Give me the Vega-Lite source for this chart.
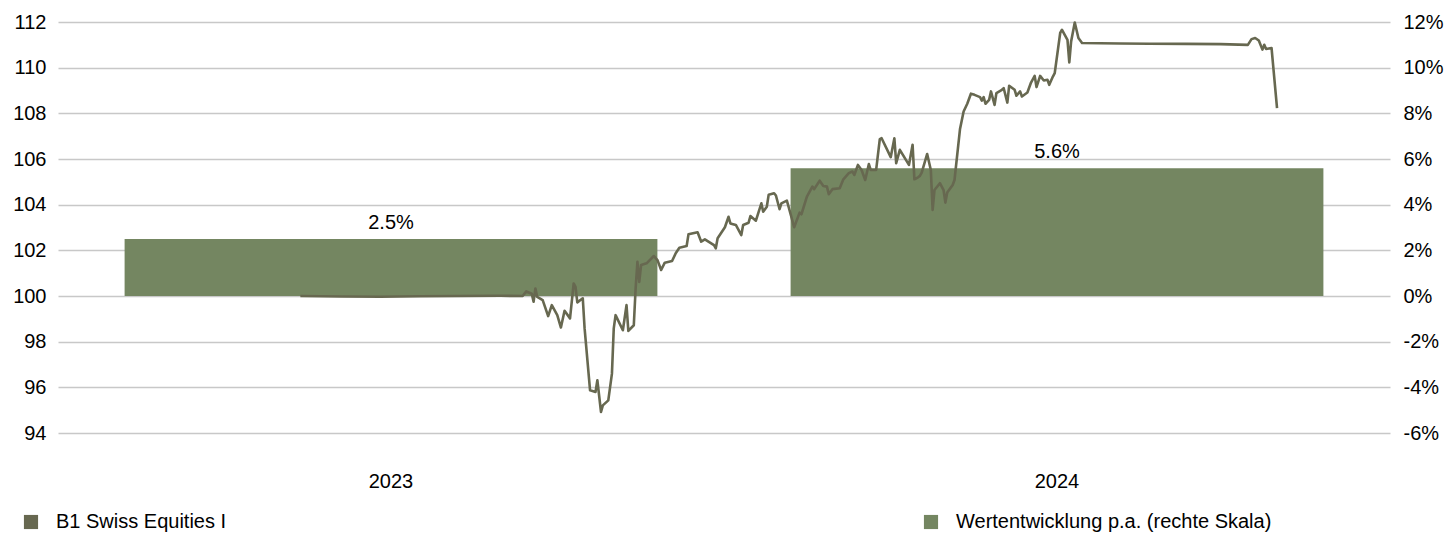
{
  "$schema": "https://vega.github.io/schema/vega-lite/v6.json",
  "width": 1332,
  "height": 411,
  "autosize": {"type": "none"},
  "padding": {"left": 58, "top": 22, "right": 56, "bottom": 103},
  "background": "white",
  "config": {
    "view": {"stroke": null},
    "font": "Liberation Sans",
    "axis": {"labelFont": "Liberation Sans", "labelFontSize": 20, "labelColor": "#000000", "domain": false, "ticks": false, "title": null},
    "legend": {"labelFont": "Liberation Sans", "labelFontSize": 20, "labelColor": "#000000", "labelLimit": 0}
  },
  "datasets": {
    "bars": [
      {"year": "2023", "perf": 0.025},
      {"year": "2024", "perf": 0.056}
    ],
    "line": [
      {"date": "2023-05-14", "value": 100.0},
      {"date": "2023-06-05", "value": 99.98},
      {"date": "2023-06-27", "value": 99.97},
      {"date": "2023-07-19", "value": 99.99},
      {"date": "2023-08-10", "value": 100.0},
      {"date": "2023-09-01", "value": 100.01},
      {"date": "2023-09-13", "value": 100.0},
      {"date": "2023-09-15", "value": 100.2},
      {"date": "2023-09-18", "value": 100.1},
      {"date": "2023-09-19", "value": 99.75},
      {"date": "2023-09-20", "value": 100.33},
      {"date": "2023-09-21", "value": 99.96},
      {"date": "2023-09-24", "value": 99.82},
      {"date": "2023-09-27", "value": 99.12},
      {"date": "2023-09-29", "value": 99.6},
      {"date": "2023-10-02", "value": 99.16},
      {"date": "2023-10-04", "value": 98.62},
      {"date": "2023-10-06", "value": 99.35},
      {"date": "2023-10-09", "value": 99.02},
      {"date": "2023-10-11", "value": 100.55},
      {"date": "2023-10-12", "value": 100.4},
      {"date": "2023-10-13", "value": 99.72},
      {"date": "2023-10-16", "value": 99.9},
      {"date": "2023-10-17", "value": 98.58},
      {"date": "2023-10-20", "value": 95.87},
      {"date": "2023-10-23", "value": 95.8},
      {"date": "2023-10-24", "value": 96.31},
      {"date": "2023-10-26", "value": 94.92},
      {"date": "2023-10-27", "value": 95.21},
      {"date": "2023-10-30", "value": 95.43},
      {"date": "2023-11-01", "value": 96.6},
      {"date": "2023-11-02", "value": 98.58},
      {"date": "2023-11-03", "value": 99.16},
      {"date": "2023-11-07", "value": 98.5},
      {"date": "2023-11-09", "value": 99.6},
      {"date": "2023-11-10", "value": 98.47},
      {"date": "2023-11-13", "value": 98.72},
      {"date": "2023-11-14", "value": 100.33},
      {"date": "2023-11-15", "value": 101.5},
      {"date": "2023-11-16", "value": 100.62},
      {"date": "2023-11-17", "value": 101.36},
      {"date": "2023-11-20", "value": 101.43},
      {"date": "2023-11-24", "value": 101.75},
      {"date": "2023-11-26", "value": 101.57},
      {"date": "2023-11-28", "value": 101.14},
      {"date": "2023-11-30", "value": 101.46},
      {"date": "2023-12-04", "value": 101.53},
      {"date": "2023-12-06", "value": 101.87},
      {"date": "2023-12-08", "value": 102.11},
      {"date": "2023-12-12", "value": 102.19},
      {"date": "2023-12-13", "value": 102.7},
      {"date": "2023-12-18", "value": 102.79},
      {"date": "2023-12-20", "value": 102.38},
      {"date": "2023-12-22", "value": 102.48},
      {"date": "2023-12-27", "value": 102.23},
      {"date": "2023-12-28", "value": 102.09},
      {"date": "2023-12-29", "value": 102.53},
      {"date": "2024-01-02", "value": 103.01},
      {"date": "2024-01-04", "value": 103.47},
      {"date": "2024-01-05", "value": 103.18},
      {"date": "2024-01-08", "value": 103.11},
      {"date": "2024-01-11", "value": 102.67},
      {"date": "2024-01-12", "value": 103.11},
      {"date": "2024-01-15", "value": 103.21},
      {"date": "2024-01-16", "value": 103.5},
      {"date": "2024-01-19", "value": 103.3},
      {"date": "2024-01-22", "value": 104.06},
      {"date": "2024-01-23", "value": 103.69},
      {"date": "2024-01-25", "value": 103.91},
      {"date": "2024-01-26", "value": 104.43},
      {"date": "2024-01-29", "value": 104.5},
      {"date": "2024-01-30", "value": 104.4},
      {"date": "2024-02-01", "value": 103.8},
      {"date": "2024-02-02", "value": 104.06},
      {"date": "2024-02-05", "value": 104.18},
      {"date": "2024-02-06", "value": 103.89},
      {"date": "2024-02-09", "value": 103.01},
      {"date": "2024-02-12", "value": 103.65},
      {"date": "2024-02-13", "value": 103.58},
      {"date": "2024-02-16", "value": 104.35},
      {"date": "2024-02-19", "value": 104.79},
      {"date": "2024-02-20", "value": 104.68},
      {"date": "2024-02-23", "value": 105.05},
      {"date": "2024-02-25", "value": 104.82},
      {"date": "2024-02-27", "value": 104.79},
      {"date": "2024-02-28", "value": 104.46},
      {"date": "2024-03-01", "value": 104.68},
      {"date": "2024-03-05", "value": 104.72},
      {"date": "2024-03-07", "value": 105.11},
      {"date": "2024-03-10", "value": 105.38},
      {"date": "2024-03-12", "value": 105.45},
      {"date": "2024-03-13", "value": 105.3},
      {"date": "2024-03-15", "value": 105.74},
      {"date": "2024-03-17", "value": 105.52},
      {"date": "2024-03-19", "value": 105.08},
      {"date": "2024-03-21", "value": 105.78},
      {"date": "2024-03-22", "value": 105.52},
      {"date": "2024-03-25", "value": 105.52},
      {"date": "2024-03-27", "value": 106.87},
      {"date": "2024-03-28", "value": 106.91},
      {"date": "2024-04-02", "value": 106.08},
      {"date": "2024-04-04", "value": 106.91},
      {"date": "2024-04-05", "value": 105.82},
      {"date": "2024-04-07", "value": 106.4},
      {"date": "2024-04-12", "value": 105.74},
      {"date": "2024-04-14", "value": 106.62},
      {"date": "2024-04-15", "value": 105.11},
      {"date": "2024-04-17", "value": 105.2},
      {"date": "2024-04-18", "value": 105.26},
      {"date": "2024-04-19", "value": 105.4},
      {"date": "2024-04-22", "value": 106.22},
      {"date": "2024-04-24", "value": 105.52},
      {"date": "2024-04-25", "value": 103.77},
      {"date": "2024-04-26", "value": 104.64},
      {"date": "2024-04-29", "value": 104.94},
      {"date": "2024-05-01", "value": 104.64},
      {"date": "2024-05-02", "value": 104.09},
      {"date": "2024-05-03", "value": 104.53},
      {"date": "2024-05-06", "value": 104.86},
      {"date": "2024-05-07", "value": 105.08},
      {"date": "2024-05-10", "value": 107.3},
      {"date": "2024-05-12", "value": 108.08},
      {"date": "2024-05-14", "value": 108.42},
      {"date": "2024-05-16", "value": 108.86},
      {"date": "2024-05-18", "value": 108.81},
      {"date": "2024-05-21", "value": 108.71},
      {"date": "2024-05-22", "value": 108.56},
      {"date": "2024-05-23", "value": 108.71},
      {"date": "2024-05-24", "value": 108.42},
      {"date": "2024-05-26", "value": 108.59},
      {"date": "2024-05-27", "value": 108.96},
      {"date": "2024-05-29", "value": 108.37},
      {"date": "2024-05-30", "value": 108.89},
      {"date": "2024-06-02", "value": 109.03},
      {"date": "2024-06-03", "value": 109.1},
      {"date": "2024-06-05", "value": 108.47},
      {"date": "2024-06-06", "value": 109.21},
      {"date": "2024-06-09", "value": 109.03},
      {"date": "2024-06-10", "value": 108.77},
      {"date": "2024-06-12", "value": 108.96},
      {"date": "2024-06-13", "value": 108.74},
      {"date": "2024-06-16", "value": 108.91},
      {"date": "2024-06-18", "value": 109.35},
      {"date": "2024-06-20", "value": 109.64},
      {"date": "2024-06-21", "value": 109.15},
      {"date": "2024-06-23", "value": 109.64},
      {"date": "2024-06-25", "value": 109.44},
      {"date": "2024-06-27", "value": 109.47},
      {"date": "2024-06-28", "value": 109.25},
      {"date": "2024-06-30", "value": 109.61},
      {"date": "2024-07-01", "value": 109.76},
      {"date": "2024-07-04", "value": 111.52},
      {"date": "2024-07-05", "value": 111.66},
      {"date": "2024-07-08", "value": 111.22},
      {"date": "2024-07-09", "value": 110.23},
      {"date": "2024-07-10", "value": 111.15},
      {"date": "2024-07-12", "value": 111.98},
      {"date": "2024-07-14", "value": 111.3},
      {"date": "2024-07-16", "value": 111.08},
      {"date": "2024-07-26", "value": 111.07},
      {"date": "2024-08-06", "value": 111.06},
      {"date": "2024-08-22", "value": 111.05},
      {"date": "2024-09-11", "value": 111.04},
      {"date": "2024-09-30", "value": 111.03},
      {"date": "2024-10-15", "value": 111.0},
      {"date": "2024-10-17", "value": 111.25},
      {"date": "2024-10-19", "value": 111.3},
      {"date": "2024-10-21", "value": 111.19},
      {"date": "2024-10-23", "value": 110.79},
      {"date": "2024-10-24", "value": 111.0},
      {"date": "2024-10-25", "value": 110.82},
      {"date": "2024-10-28", "value": 110.86},
      {"date": "2024-10-31", "value": 108.23}
    ]
  },
  "layer": [
    {
      "data": {"name": "bars"},
      "encoding": {
        "x": {
          "field": "year", "type": "nominal",
          "scale": {"paddingInner": 0.2, "paddingOuter": 0.1},
          "axis": {"orient": "bottom", "labelAngle": 0, "labelBaseline": "alphabetic", "labelPadding": 54, "grid": false}
        },
        "y": {
          "field": "perf", "type": "quantitative",
          "scale": {"domain": [-0.06, 0.12], "nice": false, "zero": false},
          "axis": {"orient": "right", "values": [-0.06, -0.04, -0.02, 0, 0.02, 0.04, 0.06, 0.08, 0.1, 0.12], "labelExpr": "replace(format(datum.value, '.0%'), '\u2212', '-')", "grid": false, "labelPadding": 13, "labelAlign": "left"}
        }
      },
      "layer": [
        {
          "mark": {"type": "bar"},
          "encoding": {
            "color": {
              "datum": "Wertentwicklung p.a. (rechte Skala)",
              "scale": {"domain": ["B1 Swiss Equities I", "Wertentwicklung p.a. (rechte Skala)"], "range": ["#676850", "#748661"]},
              "legend": {
                "orient": "none", "legendX": -37, "legendY": 490, "direction": "horizontal", "columns": 2,
                "columnPadding": 694, "symbolType": "square", "symbolSize": 200, "symbolStrokeWidth": 0,
                "labelOffset": 15, "labelLimit": 0, "title": null, "padding": 0,
                "encode": {"symbols": {"update": {"fill": {"scale": "color", "field": "value"}, "opacity": {"value": 1}, "strokeWidth": {"value": 0}}}}
              }
            }
          }
        },
        {
          "mark": {"type": "text", "baseline": "alphabetic", "dy": -10, "fontSize": 20, "font": "Liberation Sans", "color": "#000000"},
          "encoding": {"text": {"field": "perf", "type": "quantitative", "format": ".1%"}}
        }
      ]
    },
    {
      "data": {"name": "line"},
      "mark": {"type": "line", "strokeWidth": 2.6, "strokeJoin": "round"},
      "encoding": {
        "x": {
          "field": "date", "type": "temporal",
          "scale": {"domain": ["2023-01-01T00:00:00", "2025-01-01T00:00:00"]},
          "axis": null
        },
        "y": {
          "field": "value", "type": "quantitative",
          "scale": {"domain": [94, 112], "nice": false, "zero": false},
          "axis": {"orient": "left", "values": [94, 96, 98, 100, 102, 104, 106, 108, 110, 112], "grid": true, "gridColor": "#c8c8c8", "gridWidth": 1.5, "labelPadding": 12}
        },
        "color": {"datum": "B1 Swiss Equities I"}
      }
    }
  ],
  "resolve": {"scale": {"x": "independent", "y": "independent"}}
}
